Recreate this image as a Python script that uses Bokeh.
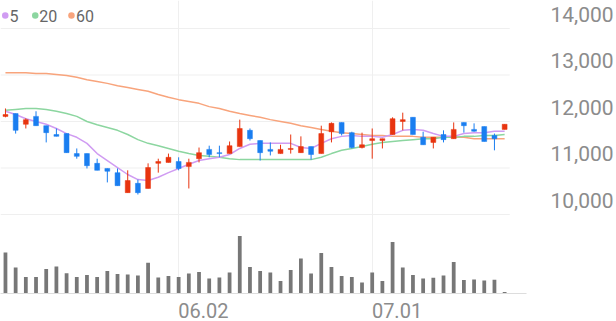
from bokeh.plotting import figure
from bokeh.models import Range1d, LinearAxis, FixedTicker, NumeralTickFormatter, ColumnDataSource
from bokeh.embed import file_html
from bokeh.resources import INLINE
from bokeh.core.properties import value

# ---------------- data ----------------
opens = [12110, 12170, 11940, 12110, 11910, 11720, 11740, 11310, 11310, 11100,
         10990, 10900, 10470, 10670, 10560, 11100, 11120, 11140, 11030, 11200,
         11400, 11330, 11310, 11460, 11810, 11590, 11400, 11310, 11400, 11330,
         11460, 11310, 11780, 11980, 11760, 11440, 11590, 11590, 11720, 12000,
         12090, 11660, 11550, 11720, 11630, 11980, 11830, 11890, 11700, 11830]
highs = [12280, 12170, 12070, 12220, 11910, 11850, 11740, 11420, 11310, 11200,
         10990, 10990, 10950, 10750, 11100, 11200, 11310, 11230, 11200, 11440,
         11480, 11480, 11570, 12040, 11850, 11590, 11550, 11500, 11720, 11680,
         11460, 11910, 11980, 11980, 11780, 11760, 11850, 11630, 12090, 12190,
         12090, 11780, 11660, 11810, 11980, 11980, 11960, 11890, 11740, 11940]
lows = [12090, 11740, 11850, 11910, 11550, 11680, 11330, 11200, 10990, 10950,
        10690, 10620, 10470, 10430, 10560, 10900, 11120, 10950, 10560, 11120,
        11230, 11230, 11310, 11460, 11590, 11160, 11270, 11310, 11310, 11330,
        11180, 11310, 11550, 11700, 11420, 11420, 11200, 11420, 11720, 11810,
        11720, 11500, 11420, 11550, 11630, 11760, 11780, 11570, 11380, 11830]
closes = [12150, 11810, 12040, 11910, 11760, 11680, 11330, 11250, 11050, 10950,
          10930, 10620, 10730, 10470, 11010, 11140, 11230, 10990, 11120, 11330,
          11290, 11310, 11480, 11850, 11630, 11330, 11360, 11400, 11420, 11460,
          11290, 11740, 11960, 11740, 11440, 11500, 11630, 11630, 12060, 12040,
          11720, 11500, 11660, 11610, 11830, 11910, 11790, 11570, 11630, 11940]
volumes = [205, 130, 83, 83, 123, 135, 101, 83, 92, 83,
           112, 97, 95, 90, 154, 80, 87, 83, 100, 107,
           75, 80, 105, 288, 132, 113, 105, 63, 117, 175,
           100, 203, 133, 88, 83, 55, 105, 63, 257, 130,
           93, 75, 79, 90, 157, 67, 70, 65, 69, 8]
ma5 = [12220, 12150, 12060, 12000, 11940, 11850, 11740, 11660, 11530, 11310,
       11160, 11010, 10860, 10750, 10730, 10800, 10900, 10990, 11080, 11160,
       11200, 11230, 11290, 11420, 11510, 11530, 11530, 11530, 11530, 11440,
       11420, 11530, 11630, 11680, 11700, 11680, 11680, 11660, 11720, 11810,
       11830, 11810, 11740, 11680, 11680, 11740, 11760, 11760, 11790, 11790]
ma20 = [12240, 12260, 12280, 12280, 12260, 12220, 12170, 12110, 12000, 11930,
        11870, 11810, 11720, 11610, 11530, 11480, 11420, 11360, 11310, 11270,
        11250, 11230, 11200, 11180, 11180, 11180, 11180, 11180, 11180, 11180,
        11180, 11230, 11310, 11380, 11420, 11460, 11510, 11550, 11570, 11590,
        11610, 11630, 11630, 11660, 11660, 11680, 11680, 11700, 11700, 11720]
ma60 = [13050, 13050, 13050, 13030, 13030, 13010, 12990, 12950, 12900, 12860,
        12820, 12770, 12730, 12690, 12650, 12580, 12520, 12470, 12430, 12390,
        12320, 12280, 12220, 12170, 12130, 12090, 12040, 12000, 11960, 11910,
        11870, 11830, 11790, 11760, 11740, 11720, 11700, 11700, 11680, 11680,
        11680, 11660, 11660, 11660, 11660, 11660, 11630, 11630, 11630, 11630]
price_ticks = [10000, 11000, 12000, 13000, 14000]
x_tick_idx = [17, 36]
x_tick_labels = ["06.02", "07.01"]
legend_labels = ["5", "20", "60"]

# ---------------- styles ----------------
UP, DOWN = "#e8340f", "#1a7ef0"
MA_COLORS = ["#d09cf2", "#8cd6a0", "#f8a47c"]
GRID = "#efefef"

n = len(closes)
idx = list(range(n))

FRAME_W, FRAME_H = 530, 293
X0, X1 = -0.487, 51.146
S, E = 8301, 14602
SHIFT = 301  # price labels sit above their grid lines
PX_PER_IDX = FRAME_W / (X1 - X0)
LABEL_OFF = 25 / PX_PER_IDX  # date labels start at their grid line

p = figure(width=616, height=321, output_backend="svg", toolbar_location=None, tools="",
           x_range=Range1d(X0, X1), y_range=Range1d(S, E), y_axis_location=None,
           min_border_left=0, min_border_top=0, min_border_right=86, min_border_bottom=28,
           outline_line_color=None, background_fill_color="white", border_fill_color="white")
p.extra_y_ranges = {"vol": Range1d(0, 1465), "lab": Range1d(S - SHIFT, E - SHIFT)}

# right price axis
ax = LinearAxis(y_range_name="lab", ticker=FixedTicker(ticks=price_ticks),
                formatter=NumeralTickFormatter(format="0,0"))
ax.axis_line_color = None
ax.major_tick_line_color = None
ax.minor_tick_line_color = None
ax.major_label_standoff = 18
ax.major_label_text_font = "Roboto"
ax.major_label_text_font_size = "21px"
ax.major_label_text_color = "#8c8c8c"
p.add_layout(ax, "right")

# bottom axis (labels shifted so they start at the grid line)
label_pos = [i + LABEL_OFF for i in x_tick_idx]
xa = p.xaxis[0]
xa.ticker = FixedTicker(ticks=label_pos)
xa.major_label_overrides = {k: v for k, v in zip(label_pos, x_tick_labels)}
xa.axis_line_color = "#dddddd"
xa.major_tick_line_color = None
xa.minor_tick_line_color = None
xa.major_label_standoff = 3
xa.major_label_text_font = "Roboto"
xa.major_label_text_font_size = "20px"
xa.major_label_text_color = "#8c8c8c"

p.xgrid.ticker = FixedTicker(ticks=x_tick_idx)
p.xgrid.grid_line_color = GRID
p.ygrid.visible = False
p.segment(x0=[X0] * len(price_ticks), x1=[n - 0.5] * len(price_ticks),
          y0=price_ticks, y1=price_ticks, line_color=GRID, line_width=1, level="underlay")

colors = [UP if c >= o else DOWN for o, c in zip(opens, closes)]
src = ColumnDataSource(dict(x=idx, o=opens, h=highs, l=lows, c=closes,
                            top=[max(o, c) for o, c in zip(opens, closes)],
                            bot=[min(o, c) for o, c in zip(opens, closes)],
                            color=colors, vol=volumes))

# volume
p.vbar(x="x", width=0.37, top="vol", bottom=0, y_range_name="vol",
       fill_color="#777777", line_color=None, source=src)

# moving averages
for ma, col in zip([ma60, ma20, ma5], MA_COLORS[::-1]):
    p.line(idx, ma, line_color=col, line_width=1.5)

# candles
p.segment(x0="x", y0="h", x1="x", y1="l", line_color="color", line_width=1, source=src)
p.vbar(x="x", width=0.48, top="top", bottom="bot", fill_color="color",
       line_color="color", line_width=0.5, source=src)

# legend
def dx(px):
    return X0 + px / FRAME_W * (X1 - X0)

def dy(py):
    return E - py / FRAME_H * (E - S)

p.scatter(x=[dx(4.8), dx(35), dx(71.5)], y=[dy(15)] * 3, size=6.5,
          fill_color=MA_COLORS, line_color=None)
p.text(x=[dx(9), dx(39), dx(76)], y=[dy(15.5)] * 3, text=legend_labels,
       text_font=value("Roboto"), text_font_size="16px", text_baseline="middle",
       text_align="left", text_color="#666666")

open("out.html", "w").write(file_html(p, INLINE))
